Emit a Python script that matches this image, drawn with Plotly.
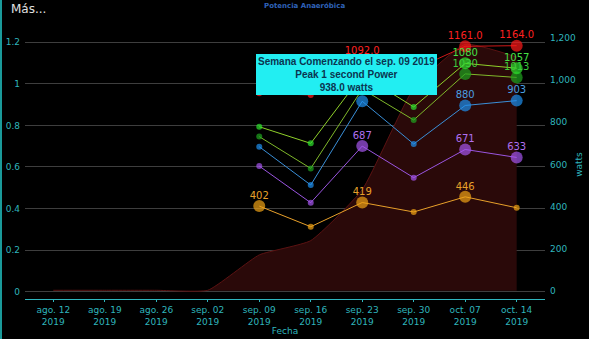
import plotly.graph_objects as go

weeks = ["ago. 12<br>2019", "ago. 19<br>2019", "ago. 26<br>2019", "sep. 02<br>2019",
         "sep. 09<br>2019", "sep. 16<br>2019", "sep. 23<br>2019", "sep. 30<br>2019",
         "oct. 07<br>2019", "oct. 14<br>2019"]

area_vals = [2, 2, 2, 2, 170, 238, 480, 960, 1170, 1110]

p1s = [None, None, None, None, 938, 930, 1092, 1050, 1161, 1164]
p5s = [None, None, None, None, 779, 700, 1025, 873, 1080, 1057]
p10s = [None, None, None, None, 732, 581, 958, 811, 1030, 1013]
p30s = [None, None, None, None, 684, 502, 900, 697, 880, 903]
p1m = [None, None, None, None, 592, 418, 687, 537, 671, 633]
p2m = [None, None, None, None, 402, 304, 419, 374, 446, 394]

series = [
    ("Peak 2 minute Power", p2m, "#f0a315", "#e8a02a", "#e8a02a", False),
    ("Peak 1 minute Power", p1m, "#a555ee", "#9a55e0", "#b070f0", False),
    ("Peak 30 second Power", p30s, "#1e90f0", "#3a8fd8", "#4a9fe0", False),
    ("Peak 10 second Power", p10s, "#1fa51f", "#7fb82a", "#3ccc3c", False),
    ("Peak 5 second Power", p5s, "#2ee22e", "#8fd02a", "#45e045", False),
    ("Peak 1 second Power", p1s, "#ff1a1a", "#d01818", "#ff2020", True),
]

teal = "#2fb5bd"
font_family = "DejaVu Sans"

fig = go.Figure()

# invisible trace so that the left axis (and its grid) is drawn
fig.add_trace(go.Scatter(x=[weeks[0]], y=[0], mode="markers", marker=dict(opacity=0),
                         hoverinfo="skip", showlegend=False))

fig.add_trace(go.Scatter(
    x=weeks, y=area_vals, mode="lines", yaxis="y2",
    line=dict(color="#5a1212", width=1, shape="spline", smoothing=0.45),
    fill="tozeroy", fillcolor="#2a0909", hoverinfo="skip", showlegend=False,
))

for name, vals, mcol, lcol, tcol, decimal in series:
    valid = [v for v in vals if v is not None]
    top3 = sorted(valid, reverse=True)[:3]
    sizes = [12 if (v is not None and v in top3) else 6 for v in vals]
    fig.add_trace(go.Scatter(
        x=weeks, y=vals, mode="lines+markers", yaxis="y2", name=name,
        line=dict(color=lcol, width=1),
        marker=dict(color=mcol, size=sizes, line=dict(width=0)),
        showlegend=False,
    ))

for name, vals, mcol, lcol, tcol, decimal in series:
    valid = [v for v in vals if v is not None]
    top3 = sorted(valid, reverse=True)[:3]
    texts = []
    for v in vals:
        if v is not None and v in top3:
            texts.append(f"{v:.1f}" if decimal else f"{v:.0f}")
        else:
            texts.append("")
    fig.add_trace(go.Scatter(
        x=weeks, y=vals, mode="markers+text", yaxis="y2", name=name + " label",
        marker=dict(size=6, opacity=0),
        text=texts, textposition="top center", cliponaxis=False,
        textfont=dict(color=tcol, size=10, family=font_family),
        hoverinfo="skip", showlegend=False,
    ))

fig.update_layout(
    width=589, height=339,
    margin=dict(l=25, r=44, t=30, b=40),
    paper_bgcolor="black", plot_bgcolor="black",
    font=dict(family=font_family, color=teal, size=9),
    showlegend=False,
    xaxis=dict(
        type="category", range=[-0.55, 9.55], automargin=False,
        showgrid=False, zeroline=False,
        showline=True, linecolor=teal, linewidth=1,
        ticks="outside", ticklen=2, tickcolor=teal,
        tickfont=dict(color=teal, size=9),
        title=dict(text="Fecha", font=dict(color=teal, size=9), standoff=0),
    ),
    yaxis=dict(
        range=[-0.035, 1.259], tickvals=[0, 0.2, 0.4, 0.6, 0.8, 1, 1.2],
        ticktext=["0", "0.2", "0.4", "0.6", "0.8", "1", "1.2"], automargin=False,
        showgrid=True, gridcolor="#3e3e3e", gridwidth=1,
        zeroline=False, showline=False,
        tickfont=dict(color=teal, size=9), ticks="", ticklabelstandoff=4,
    ),
    yaxis2=dict(
        overlaying="y", side="right", automargin=False,
        range=[-39.4, 1238.5], tickvals=[0, 200, 400, 600, 800, 1000, 1200],
        tickformat=",", showgrid=False, zeroline=False, showline=False,
        tickfont=dict(color=teal, size=9), ticklabelstandoff=4,
        title=dict(text="watts", font=dict(color=teal, size=9), standoff=0),
    ),
)

fig.add_annotation(
    x=weeks[4], y=p1s[4], xref="x", yref="y2",
    text="<b>Semana Comenzando el sep. 09 2019<br>Peak 1 second Power<br>938.0 watts</b>",
    showarrow=False, xanchor="left", yanchor="bottom", xshift=-3, yshift=-2,
    bgcolor="#22eef2", bordercolor="#22eef2", borderpad=1, align="center",
    font=dict(color="#0b3550", size=10, family="Liberation Sans"),
)

fig.add_annotation(
    x=0.0, y=1.0, xref="paper", yref="paper", xshift=-16, yshift=30,
    text="Más...", showarrow=False, xanchor="left", yanchor="top",
    font=dict(color="#e0e0e0", size=12, family=font_family),
)

fig.add_annotation(
    x=0.538, y=1.0, xref="paper", yref="paper", yshift=30,
    text="<b>Potencia Anaeróbica</b>", showarrow=False, xanchor="center", yanchor="top",
    font=dict(color="#2f62b8", size=7, family=font_family),
)

fig.add_shape(
    type="line", xref="paper", yref="paper",
    x0=-24 / 520, x1=-24 / 520, y0=-40 / 269, y1=1 + 30 / 269,
    line=dict(color="#1a9a9a", width=2),
)

fig.write_html("out.html")
